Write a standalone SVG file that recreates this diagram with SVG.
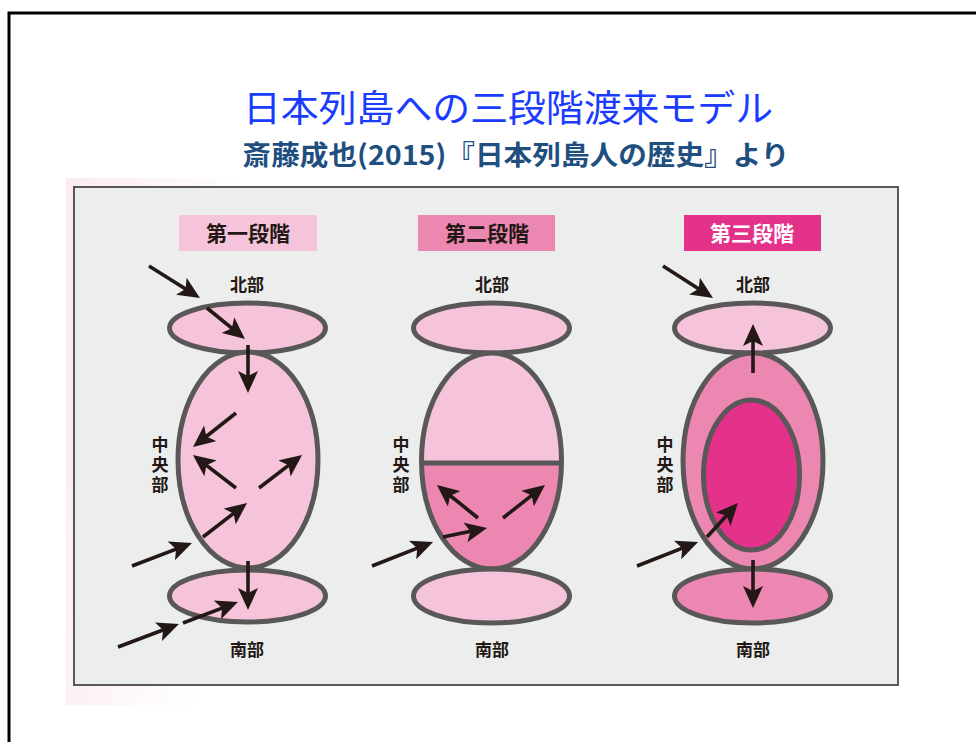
<svg xmlns="http://www.w3.org/2000/svg" width="976" height="742" viewBox="0 0 976 742">
<style>
.lab{font-family:"Noto Sans CJK JP","Noto Sans CJK SC",sans-serif;font-weight:700;fill:#231815;text-anchor:middle}
.reg{font-size:17px}
.vert{font-family:"Noto Sans CJK JP","Noto Sans CJK SC",sans-serif;font-weight:700;fill:#231815;font-size:17px;writing-mode:vertical-rl;letter-spacing:3px}
.stg{font-size:21px}
.ell{stroke:#595757;stroke-width:5}
.lp{fill:#f6c4da}
.mp{fill:#ec87b1}
.hp{fill:#e4318a}
.arr{stroke:#231815;stroke-width:3.6;fill:none;marker-end:url(#ah)}
</style>
<defs>
<marker id="ah" markerUnits="userSpaceOnUse" viewBox="0 0 22 20" refX="14" refY="10" markerWidth="22" markerHeight="20" orient="auto">
<path d="M0,0 L22,10 L0,20 L5,10 Z" fill="#231815"/>
</marker>
<linearGradient id="fade" x1="0" y1="0" x2="1" y2="0.3">
<stop offset="0" stop-color="#f4c6d8" stop-opacity="0.35"/>
<stop offset="1" stop-color="#f4c6d8" stop-opacity="0"/>
</linearGradient>
<clipPath id="lowhalf"><rect x="400" y="463" width="200" height="120"/></clipPath>
</defs>
<rect width="976" height="742" fill="#ffffff"/>
<path d="M9,742 V13 H976" fill="none" stroke="#000" stroke-width="3"/>
<g id="title">
<text x="508" y="122" font-family="Noto Sans CJK JP,sans-serif" font-size="37" fill="#1a3cff" text-anchor="middle" textLength="530" lengthAdjust="spacingAndGlyphs">日本列島への三段階渡来モデル</text>
<text x="516" y="165" font-family="Noto Sans CJK JP,sans-serif" font-size="27" font-weight="700" fill="#1f4f7f" text-anchor="middle" textLength="547" lengthAdjust="spacingAndGlyphs">斎藤成也(2015)『日本列島人の歴史』より</text>
</g>
<rect x="66" y="178" width="170" height="527" fill="url(#fade)"/>
<rect id="panel" x="74" y="187" width="824" height="498" fill="#eceeed" stroke="#595757" stroke-width="2"/>

<g id="stage1">
<rect x="179" y="215" width="138" height="36" class="lp"/>
<text x="248" y="241" class="lab stg">第一段階</text>
<text x="247" y="291" class="lab reg">北部</text>
<ellipse cx="247.5" cy="328" rx="78" ry="25" class="ell lp"/>
<ellipse cx="248" cy="460" rx="70" ry="108" class="ell lp"/>
<ellipse cx="247.5" cy="596" rx="78" ry="26" class="ell lp"/>
<text x="160" y="436" class="vert">中央部</text>
<text x="247" y="656" class="lab reg">南部</text>
</g>

<g id="stage2">
<rect x="418" y="215" width="137" height="36" class="mp"/>
<text x="487" y="241" class="lab stg">第二段階</text>
<text x="492" y="291" class="lab reg">北部</text>
<ellipse cx="491.5" cy="328" rx="78" ry="25" class="ell lp"/>
<ellipse cx="491.5" cy="461" rx="70" ry="108" class="lp"/>
<ellipse cx="491.5" cy="461" rx="70" ry="108" class="mp" clip-path="url(#lowhalf)"/>
<ellipse cx="491.5" cy="461" rx="70" ry="108" class="ell" fill="none"/>
<line x1="421" y1="463" x2="562" y2="463" stroke="#595757" stroke-width="5"/>
<ellipse cx="491.5" cy="596" rx="78" ry="27" class="ell lp"/>
<text x="401" y="436" class="vert">中央部</text>
<text x="492" y="656" class="lab reg">南部</text>
</g>

<g id="stage3">
<rect x="684" y="215" width="137" height="36" class="hp"/>
<text x="752" y="241" class="lab stg" style="fill:#ffffff">第三段階</text>
<text x="753" y="291" class="lab reg">北部</text>
<ellipse cx="752.5" cy="328" rx="78" ry="25" class="ell lp"/>
<ellipse cx="753" cy="461" rx="70" ry="108" class="ell mp"/>
<ellipse cx="751.5" cy="475" rx="48" ry="75" class="ell hp"/>
<ellipse cx="752.5" cy="596" rx="78" ry="27" class="ell mp"/>
<text x="665" y="436" class="vert">中央部</text>
<text x="753" y="656" class="lab reg">南部</text>
</g>

<g id="connectors">
<line class="arr" x1="149" y1="266" x2="193.2" y2="293.7"/>
<line class="arr" x1="207" y1="308" x2="238.8" y2="333.9"/>
<line class="arr" x1="248" y1="345" x2="248" y2="385"/>
<line class="arr" x1="236" y1="413" x2="199.3" y2="442"/>
<line class="arr" x1="236" y1="488" x2="199.3" y2="459.9"/>
<line class="arr" x1="259" y1="488" x2="295.7" y2="459.9"/>
<line class="arr" x1="203" y1="537" x2="240.7" y2="507.9"/>
<line class="arr" x1="132" y1="566" x2="184.5" y2="545.9"/>
<line class="arr" x1="248" y1="561" x2="248" y2="602"/>
<line class="arr" x1="183" y1="623" x2="230.5" y2="604.9"/>
<line class="arr" x1="118" y1="647" x2="171.5" y2="626.8"/>

<line class="arr" x1="478" y1="518" x2="443.2" y2="490"/>
<line class="arr" x1="503" y1="518" x2="538.7" y2="489.9"/>
<line class="arr" x1="443" y1="537" x2="479.2" y2="529.6"/>
<line class="arr" x1="372" y1="566" x2="425.6" y2="544.9"/>

<line class="arr" x1="663" y1="266" x2="706.3" y2="293.7"/>
<line class="arr" x1="753" y1="373" x2="753" y2="332"/>
<line class="arr" x1="707" y1="537" x2="732.6" y2="508.9"/>
<line class="arr" x1="637" y1="566" x2="690.6" y2="544.9"/>
<line class="arr" x1="753" y1="560" x2="753" y2="600"/>
</g>
</svg>
